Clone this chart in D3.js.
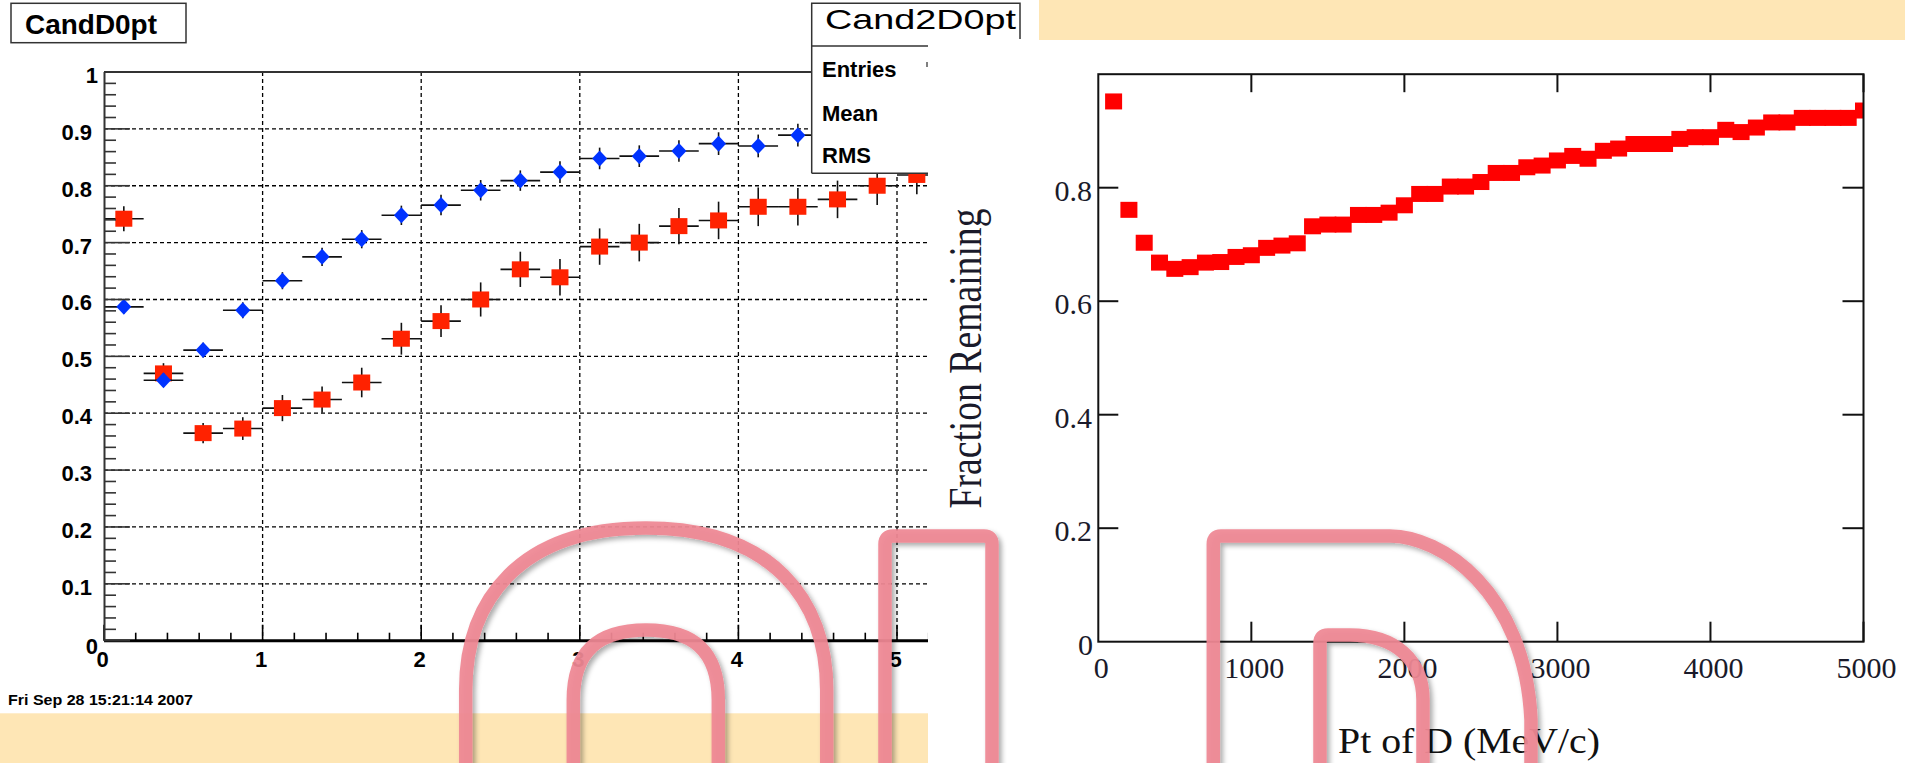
<!DOCTYPE html>
<html><head><meta charset="utf-8">
<script src="https://cdn.jsdelivr.net/npm/d3@7"></script>
<style>
html,body{margin:0;padding:0;background:#fff;overflow:hidden}
svg{display:block}
</style></head><body>
<svg id="c" width="1905" height="763"></svg>
<script>
// ---------------- data ----------------
// left panel (ROOT histograms, bin width 0.25)
const binCenters = [0.125,0.375,0.625,0.875,1.125,1.375,1.625,1.875,2.125,2.375,2.625,2.875,3.125,3.375,3.625,3.875,4.125,4.375,4.625,4.875,5.125];
const binHalfWidth = 0.125;
const candD0ptValues = [0.587,0.458,0.511,0.581,0.633,0.675,0.706,0.748,0.766,0.792,0.809,0.824,0.848,0.852,0.861,0.874,0.870,0.889,0.895,0.903,0.910];
const candD0ptErrors = [0.012,0.012,0.013,0.014,0.015,0.016,0.016,0.017,0.018,0.018,0.018,0.019,0.019,0.019,0.019,0.020,0.020,0.020,0.020,0.020,0.020];
const cand2D0ptValues = [0.742,0.470,0.365,0.373,0.409,0.424,0.454,0.531,0.562,0.600,0.653,0.639,0.693,0.700,0.729,0.739,0.763,0.763,0.776,0.800,0.819];
const cand2D0ptErrors = [0.022,0.018,0.018,0.020,0.023,0.023,0.026,0.028,0.028,0.030,0.031,0.032,0.032,0.033,0.032,0.033,0.034,0.033,0.033,0.034,0.034];
const leftXTicks = [0,1,2,3,4,5];
const leftXTickLabels = ["0","1","2","3","4","5"];
const leftYTicks = [0,0.1,0.2,0.3,0.4,0.5,0.6,0.7,0.8,0.9,1];
const leftYTickLabels = ["0","0.1","0.2","0.3","0.4","0.5","0.6","0.7","0.8","0.9","1"];
const statLabels = ["Entries","Mean","RMS"];

// right panel
const ptOfD = [100,200,300,400,500,600,700,800,900,1000,1100,1200,1300,1400,1500,1600,1700,1800,1900,2000,2100,2200,2300,2400,2500,2600,2700,2800,2900,3000,3100,3200,3300,3400,3500,3600,3700,3800,3900,4000,4100,4200,4300,4400,4500,4600,4700,4800,4900,5000];
const fractionRemaining = [0.952,0.761,0.703,0.668,0.657,0.660,0.668,0.669,0.678,0.681,0.694,0.698,0.702,0.732,0.735,0.735,0.752,0.752,0.756,0.769,0.789,0.789,0.802,0.802,0.810,0.826,0.826,0.836,0.839,0.848,0.856,0.851,0.865,0.869,0.877,0.877,0.877,0.886,0.889,0.889,0.902,0.898,0.906,0.915,0.915,0.923,0.923,0.923,0.923,0.936];
const rightXTicks = [0,1000,2000,3000,4000,5000];
const rightXTickLabels = ["0","1000","2000","3000","4000","5000"];
const rightYTicks = [0,0.2,0.4,0.6,0.8];
const rightYTickLabels = ["0","0.2","0.4","0.6","0.8"];

// ---------------- drawing ----------------
const svg = d3.select("#c");
const defs = svg.append("defs");
defs.append("clipPath").attr("id","clipL").append("rect").attr("x",0).attr("y",0).attr("width",928).attr("height",763);
defs.append("clipPath").attr("id","clipR").append("rect").attr("x",1098.3).attr("y",74).attr("width",765.2).attr("height",568);
const f = defs.append("filter").attr("id","sh").attr("x","-20%").attr("y","-20%").attr("width","140%").attr("height","140%");
f.append("feDropShadow").attr("dx",3).attr("dy",3).attr("stdDeviation",2.5).attr("flood-color","#000").attr("flood-opacity",0.35);

svg.append("rect").attr("width",1905).attr("height",763).attr("fill","#fff");

// yellow bands
svg.append("rect").attr("x",0).attr("y",713.3).attr("width",928).attr("height",50).attr("fill","#fee6b5");
svg.append("rect").attr("x",1039).attr("y",0).attr("width",866).attr("height",40).attr("fill","#fee6b5");

// ===== LEFT PANEL =====
const xL = d3.scaleLinear().domain([0,5.25]).range([104,104+5.25*158.6]);
const yL = d3.scaleLinear().domain([0,1]).range([640.7,72]);
const gL = svg.append("g").attr("clip-path","url(#clipL)");

// grid
gL.selectAll("line.vg").data(leftXTicks.filter(d=>d>0)).join("line")
  .attr("x1",d=>xL(d)).attr("x2",d=>xL(d)).attr("y1",yL(1)).attr("y2",yL(0))
  .attr("stroke","#000").attr("stroke-width",1.3).attr("stroke-dasharray","4,3");
gL.selectAll("line.hg").data(leftYTicks.filter(d=>d>0&&d<1)).join("line")
  .attr("x1",xL(0)).attr("x2",928).attr("y1",d=>yL(d)).attr("y2",d=>yL(d))
  .attr("stroke","#000").attr("stroke-width",1.3).attr("stroke-dasharray","4,3");

// top frame line
svg.append("line").attr("x1",xL(0)).attr("x2",812).attr("y1",yL(1)).attr("y2",yL(1)).attr("stroke","#333").attr("stroke-width",2);
// y axis line
svg.append("line").attr("x1",xL(0)+0.5).attr("x2",xL(0)+0.5).attr("y1",yL(1)).attr("y2",yL(0)).attr("stroke","#333").attr("stroke-width",2);
// y ticks
const yMinor = yL.ticks(50);
svg.selectAll("line.yt").data(yMinor).join("line")
  .attr("x1",xL(0)).attr("y1",d=>yL(d)).attr("y2",d=>yL(d))
  .attr("x2",d=>xL(0)+(Math.abs(d*10-Math.round(d*10))<1e-6?26:12))
  .attr("stroke","#333").attr("stroke-width",1.6);
// y labels
svg.selectAll("text.yl").data(leftYTicks).join("text")
  .attr("x",(d,i)=>leftYTickLabels[i].indexOf(".")<0?98:92)
  .attr("y",(d,i)=>yL(d)+(d===0?13:11))
  .attr("text-anchor","end").attr("font-family","Liberation Sans, Arial, sans-serif")
  .attr("font-weight","bold").attr("font-size",22).attr("fill","#000")
  .text((d,i)=>leftYTickLabels[i]);

// data: red (cand2) drawn first, blue on top
function drawSeries(vals, errs, color, shape){
  const g = gL.append("g");
  g.selectAll("line.h").data(binCenters).join("line")
    .attr("x1",d=>xL(d-binHalfWidth)).attr("x2",d=>xL(d+binHalfWidth))
    .attr("y1",(d,i)=>yL(vals[i])).attr("y2",(d,i)=>yL(vals[i]))
    .attr("stroke","#111").attr("stroke-width",1.6);
  g.selectAll("line.v").data(binCenters).join("line")
    .attr("x1",d=>xL(d)).attr("x2",d=>xL(d))
    .attr("y1",(d,i)=>yL(vals[i]+errs[i])).attr("y2",(d,i)=>yL(vals[i]-errs[i]))
    .attr("stroke","#111").attr("stroke-width",1.6);
  if(shape==="square"){
    g.selectAll("rect").data(binCenters).join("rect")
      .attr("x",d=>xL(d)-8.5).attr("y",(d,i)=>yL(vals[i])-8).attr("width",17).attr("height",16)
      .attr("fill",color);
  } else {
    g.selectAll("path").data(binCenters).join("path")
      .attr("d",(d,i)=>{const cx=xL(d), cy=yL(vals[i]); return `M${cx},${cy-8}L${cx+7.5},${cy}L${cx},${cy+8}L${cx-7.5},${cy}Z`;})
      .attr("fill",color);
  }
}
drawSeries(cand2D0ptValues, cand2D0ptErrors, "#ff2200", "square");
drawSeries(candD0ptValues, candD0ptErrors, "#0033ff", "diamond");

// x axis
gL.append("line").attr("x1",xL(0)).attr("x2",928).attr("y1",yL(0)).attr("y2",yL(0)).attr("stroke","#000").attr("stroke-width",3);
const xMinor = d3.range(0,27).map(i=>i*0.2);
gL.selectAll("line.xt").data(xMinor).join("line")
  .attr("x1",d=>xL(d)).attr("x2",d=>xL(d)).attr("y1",yL(0))
  .attr("y2",d=>yL(0)-(Math.abs(d-Math.round(d))<1e-6?16:8))
  .attr("stroke","#000").attr("stroke-width",1.6);
svg.selectAll("text.xl").data(leftXTicks).join("text")
  .attr("x",d=>xL(d)-1.5).attr("y",666.7)
  .attr("text-anchor","middle").attr("font-family","Liberation Sans, Arial, sans-serif")
  .attr("font-weight","bold").attr("font-size",22).attr("fill","#000")
  .text((d,i)=>leftXTickLabels[i]);

// title box
svg.append("rect").attr("x",11).attr("y",3.3).attr("width",175).attr("height",39.4)
  .attr("fill","#fff").attr("stroke","#333").attr("stroke-width",1.5);
svg.append("text").attr("x",25).attr("y",34).attr("font-family","Liberation Sans, Arial, sans-serif")
  .attr("font-weight","bold").attr("font-size",27).attr("textLength",132).attr("lengthAdjust","spacingAndGlyphs")
  .text("CandD0pt");

// stat box
svg.append("rect").attr("x",811.7).attr("y",3.3).attr("width",208.3).attr("height",42.7).attr("fill","#fff");
svg.append("rect").attr("x",811.7).attr("y",46).attr("width",116.3).attr("height",127.3).attr("fill","#fff");
const sb = svg.append("g").attr("stroke","#333").attr("stroke-width",1.5).attr("fill","none");
sb.append("path").attr("d","M811.7,173.3 L811.7,3.3 L1020,3.3 L1020,39");
sb.append("path").attr("d","M811.7,46 L928,46");
sb.append("path").attr("d","M811.7,173.3 L928,173.3");
svg.append("text").attr("x",825).attr("y",28.5).attr("font-family","Liberation Sans, Arial, sans-serif")
  .attr("font-size",28).attr("textLength",191).attr("lengthAdjust","spacingAndGlyphs").text("Cand2D0pt");
svg.selectAll("text.st").data(statLabels).join("text")
  .attr("x",822).attr("y",(d,i)=>[76.7,120.7,163.3][i])
  .attr("font-family","Liberation Sans, Arial, sans-serif").attr("font-weight","bold").attr("font-size",22)
  .text(d=>d);
svg.append("line").attr("x1",927).attr("x2",927).attr("y1",62).attr("y2",67).attr("stroke","#000").attr("stroke-width",1);

// date
svg.append("text").attr("x",8).attr("y",705).attr("font-family","Liberation Sans, Arial, sans-serif")
  .attr("font-weight","bold").attr("font-size",14).attr("textLength",185).attr("lengthAdjust","spacingAndGlyphs")
  .text("Fri Sep 28 15:21:14 2007");

// ===== RIGHT PANEL =====
const xR = d3.scaleLinear().domain([0,5000]).range([1098.3,1863.5]);
const yR = d3.scaleLinear().domain([0,1]).range([641.7,74.2]);

// markers
svg.append("g").attr("clip-path","url(#clipR)").selectAll("rect").data(ptOfD).join("rect")
  .attr("x",d=>xR(d)-8.5).attr("y",(d,i)=>yR(fractionRemaining[i])-8).attr("width",17).attr("height",16)
  .attr("fill","#ff0000");

// frame
svg.append("rect").attr("x",xR(0)).attr("y",yR(1)).attr("width",xR(5000)-xR(0)).attr("height",yR(0)-yR(1))
  .attr("fill","none").attr("stroke","#111").attr("stroke-width",2);
// ticks
const tk = svg.append("g").attr("stroke","#111").attr("stroke-width",2);
tk.selectAll("line.b").data(rightXTicks.filter(d=>d>0)).join("line")
  .attr("x1",d=>xR(d)).attr("x2",d=>xR(d)).attr("y1",yR(0)).attr("y2",yR(0)-20);
tk.selectAll("line.t").data(rightXTicks.filter(d=>d>0)).join("line")
  .attr("x1",d=>xR(d)).attr("x2",d=>xR(d)).attr("y1",yR(1)).attr("y2",yR(1)+18);
tk.selectAll("line.l").data(rightYTicks.filter(d=>d>0)).join("line")
  .attr("x1",xR(0)).attr("x2",xR(0)+20).attr("y1",d=>yR(d)).attr("y2",d=>yR(d));
tk.selectAll("line.r").data(rightYTicks.filter(d=>d>0)).join("line")
  .attr("x1",xR(5000)).attr("x2",xR(5000)-21).attr("y1",d=>yR(d)).attr("y2",d=>yR(d));
// labels
svg.selectAll("text.rxl").data(rightXTicks).join("text")
  .attr("x",d=>xR(d)+3).attr("y",yR(0)+36).attr("text-anchor","middle")
  .attr("font-family","Liberation Serif, Times New Roman, serif").attr("font-size",30).attr("fill","#1a1a2a")
  .text((d,i)=>rightXTickLabels[i]);
svg.selectAll("text.ryl").data(rightYTicks).join("text")
  .attr("x",d=>d===0?1093:1092).attr("y",d=>yR(d)+13).attr("text-anchor","end")
  .attr("font-family","Liberation Serif, Times New Roman, serif").attr("font-size",30).attr("fill","#1a1a2a")
  .text((d,i)=>rightYTickLabels[i]);
// axis titles
svg.append("text").attr("transform","translate(981,358.5) rotate(-90) scale(1,1.3)")
  .attr("text-anchor","middle").attr("font-family","Liberation Serif, Times New Roman, serif")
  .attr("font-size",36).attr("textLength",300).attr("lengthAdjust","spacingAndGlyphs").attr("fill","#1a1a2a")
  .text("Fraction Remaining");
svg.append("text").attr("x",1469).attr("y",753).attr("text-anchor","middle")
  .attr("font-family","Liberation Serif, Times New Roman, serif").attr("font-size",35)
  .attr("textLength",262).attr("lengthAdjust","spacingAndGlyphs").attr("fill","#111")
  .text("Pt of D (MeV/c)");

// ===== pink overlay letters =====
const pk = svg.append("g").attr("fill","none").attr("stroke","#ef8893").attr("stroke-opacity",0.93)
  .attr("stroke-width",13.5).attr("stroke-linejoin","round").attr("filter","url(#sh)");
pk.append("path").attr("d","M465.7,775 L465.7,690 C465.7,600 520,528 646,528 C772,528 826.7,600 826.7,690 L826.7,775");
pk.append("path").attr("d","M573.3,775 L573.3,700 C573.3,650 600,630 646,630 C692,630 718.3,650 718.3,700 L718.3,775");
pk.append("path").attr("d","M885,775 L885,544 Q885,536 893,536 L984,536 Q992,536 992,544 L992,775");
pk.append("path").attr("d","M1213.3,775 L1213.3,544 Q1213.3,536 1221,536 L1390,536 C1440,536 1525,590 1531,720 L1531,775");
pk.append("path").attr("d","M1320,775 L1320,643 Q1320,635 1328,635 L1350,635 C1395,635 1423,660 1423,700 L1423,775");
</script>
</body></html>
